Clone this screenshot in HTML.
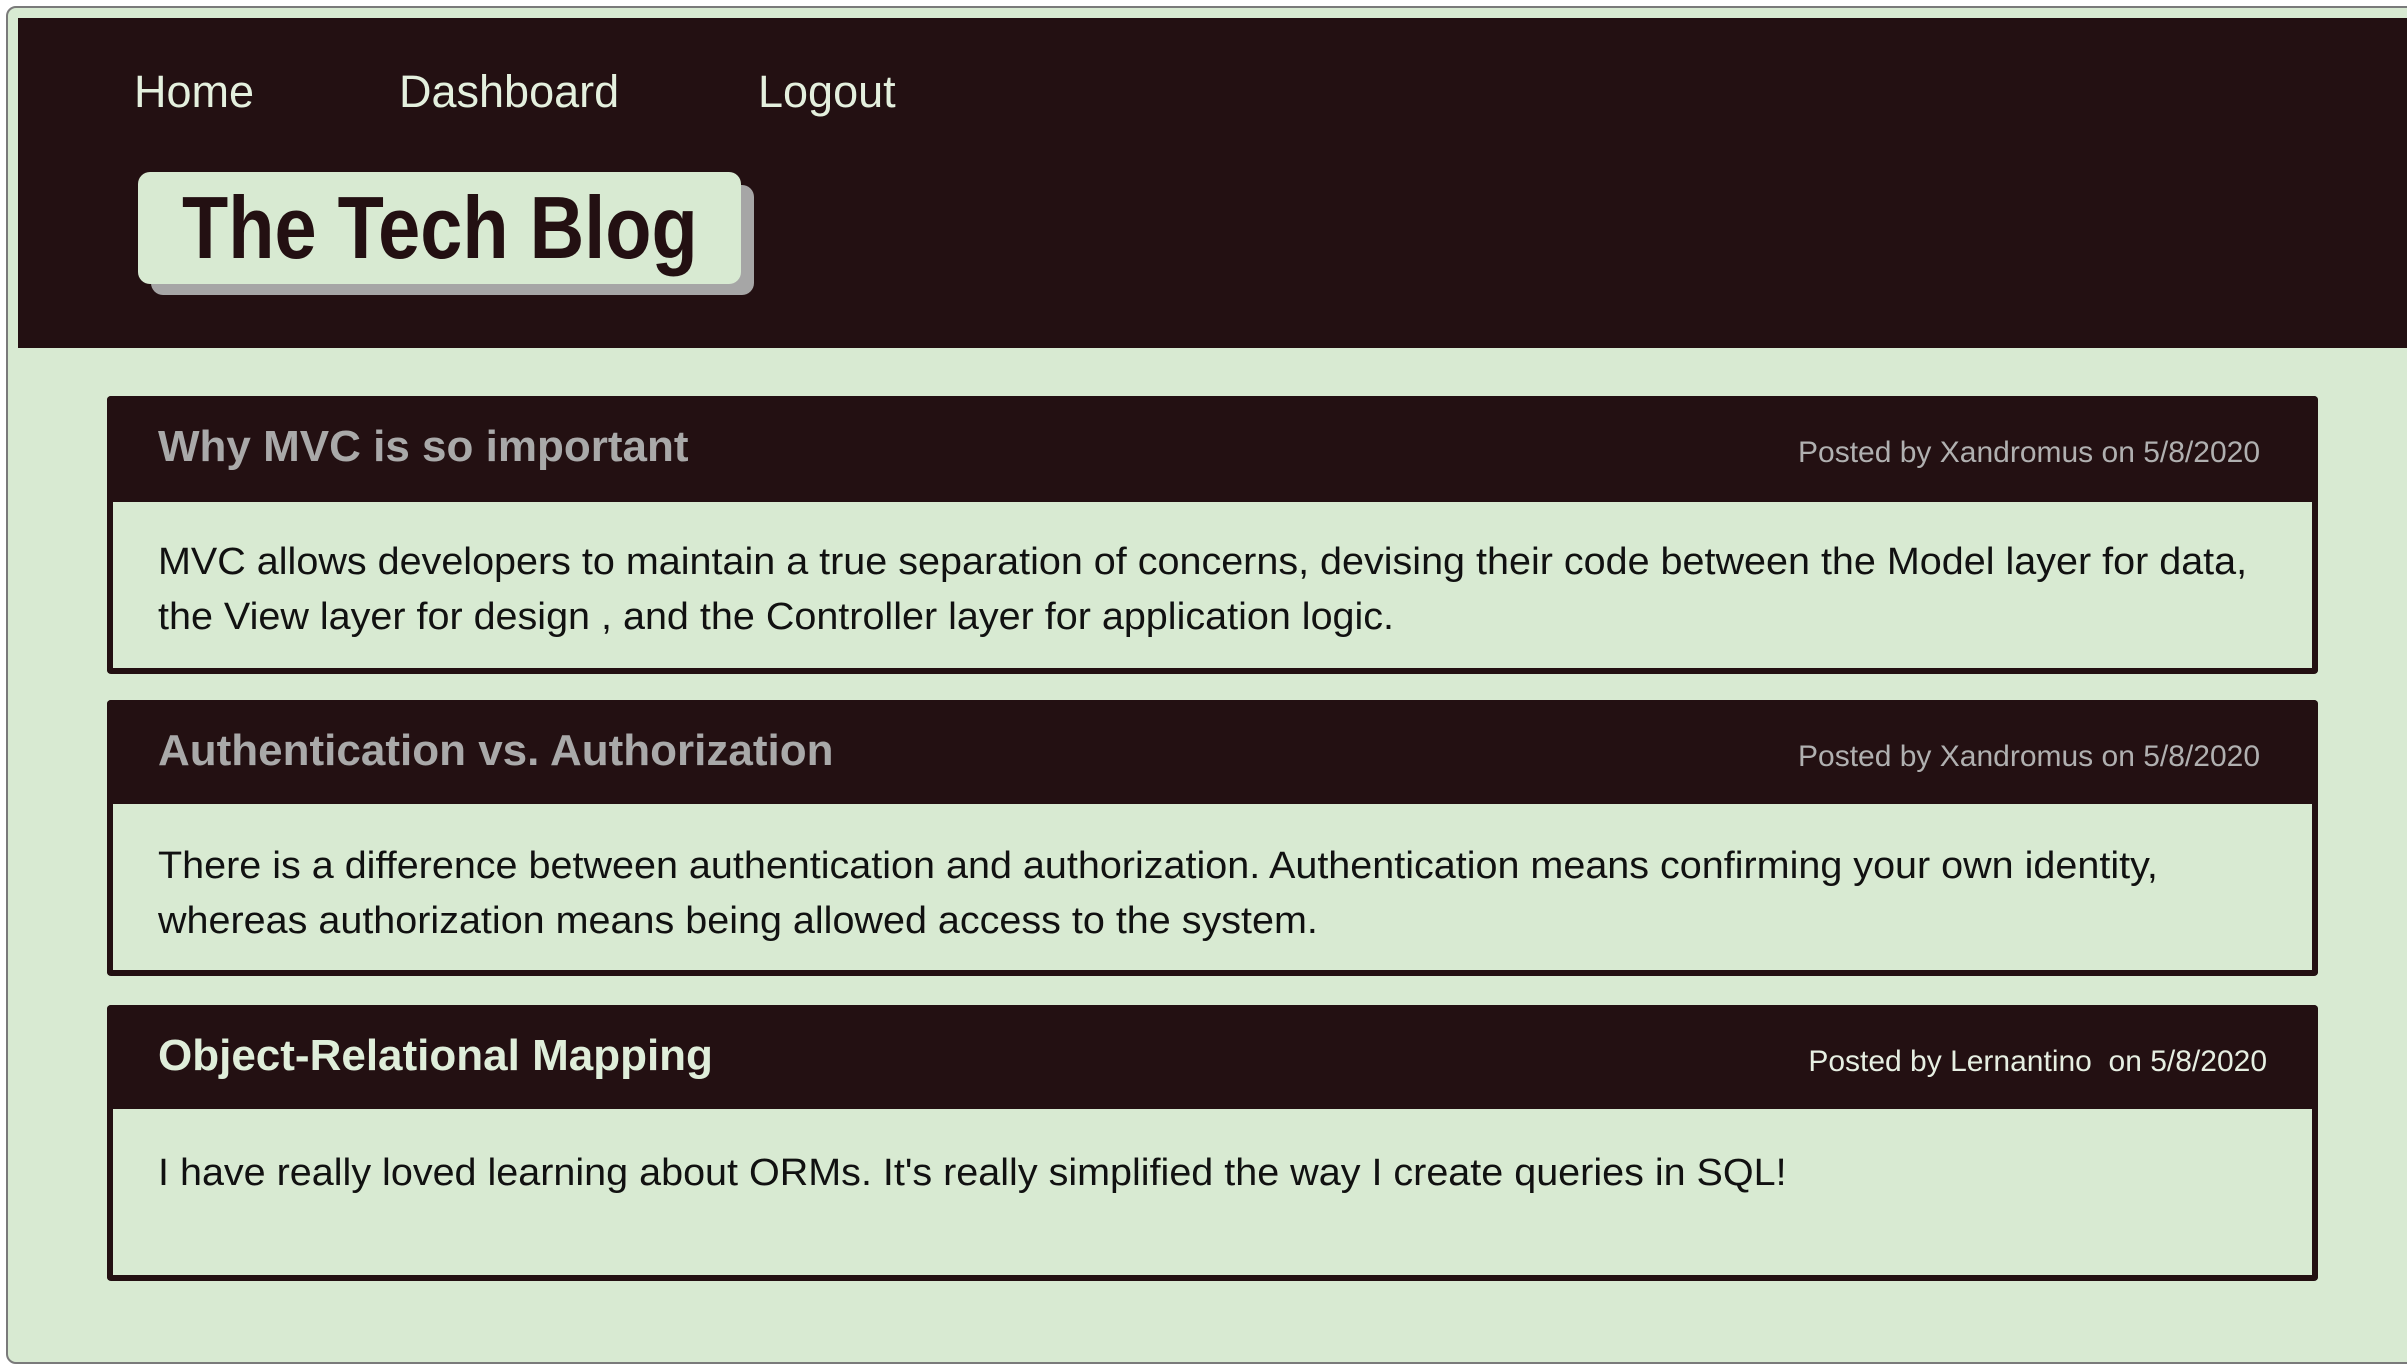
<!DOCTYPE html>
<html><head><meta charset="utf-8"><style>
*{margin:0;padding:0;box-sizing:border-box}
html,body{width:2407px;height:1370px;overflow:hidden;background:#fff;font-family:"Liberation Sans",sans-serif}
.frame{position:absolute;left:6px;top:6px;width:2420px;height:1358px;border:2px solid #7a7a7a;border-radius:10px;background:#d8ead2;overflow:hidden}
.hdr{position:absolute;left:18px;top:18px;right:0;height:330px;background:#231012}
.nav{position:absolute;top:62px;color:#e4f0de;font-size:45px;line-height:60px}
.shadow{position:absolute;left:151px;top:185px;width:603px;height:110px;background:#a6a6a6;border-radius:12px}
.title{position:absolute;left:138px;top:172px;width:603px;height:112px;background:#d8ead2;border-radius:12px}
.title span{position:absolute;left:44px;top:10px;font-weight:bold;font-size:88px;line-height:92px;color:#231012;transform:scaleX(0.86);transform-origin:left;white-space:nowrap}
.card{position:absolute;left:107px;width:2211px;background:#d8ead2;border:6px solid #231012;border-top:none;border-radius:4px}
.ch{position:absolute;left:-6px;right:-6px;top:0;background:#231012;border-radius:4px 4px 0 0}
.ct{position:absolute;left:45px;font-weight:bold;font-size:44px;color:#a9a9a9;white-space:nowrap}
.cm{position:absolute;right:52px;font-size:30px;color:#b0b0b0;white-space:nowrap}
.cb{position:absolute;left:45px;font-size:38px;line-height:55px;color:#111;white-space:nowrap;transform:scaleX(1.04);transform-origin:left}
</style></head><body>
<div class="frame"></div>
<div class="hdr"></div>
<div class="nav" style="left:134px">Home</div>
<div class="nav" style="left:399px">Dashboard</div>
<div class="nav" style="left:758px">Logout</div>
<div class="shadow"></div>
<div class="title"><span>The Tech Blog</span></div>

<div class="card" style="top:396px;height:278px">
 <div class="ch" style="height:106px"></div>
 <div class="ct" style="top:26px">Why MVC is so important</div>
 <div class="cm" style="top:40px">Posted by Xandromus on 5/8/2020</div>
 <div class="cb" style="top:139px">MVC allows developers to maintain a true separation of concerns, devising their code between the Model layer for data,<br>the View layer for design , and the Controller layer for application logic.</div>
</div>

<div class="card" style="top:700px;height:276px">
 <div class="ch" style="height:104px"></div>
 <div class="ct" style="top:26px">Authentication vs. Authorization</div>
 <div class="cm" style="top:40px">Posted by Xandromus on 5/8/2020</div>
 <div class="cb" style="top:139px">There is a difference between authentication and authorization. Authentication means confirming your own identity,<br>whereas authorization means being allowed access to the system.</div>
</div>

<div class="card" style="top:1005px;height:276px">
 <div class="ch" style="height:104px"></div>
 <div class="ct" style="top:26px;color:#dfeeda">Object-Relational Mapping</div>
 <div class="cm" style="top:40px;right:45px;color:#e6efe2">Posted by Lernantino&nbsp; on 5/8/2020</div>
 <div class="cb" style="top:141px">I have really loved learning about ORMs. It's really simplified the way I create queries in SQL!</div>
</div>
</body></html>
